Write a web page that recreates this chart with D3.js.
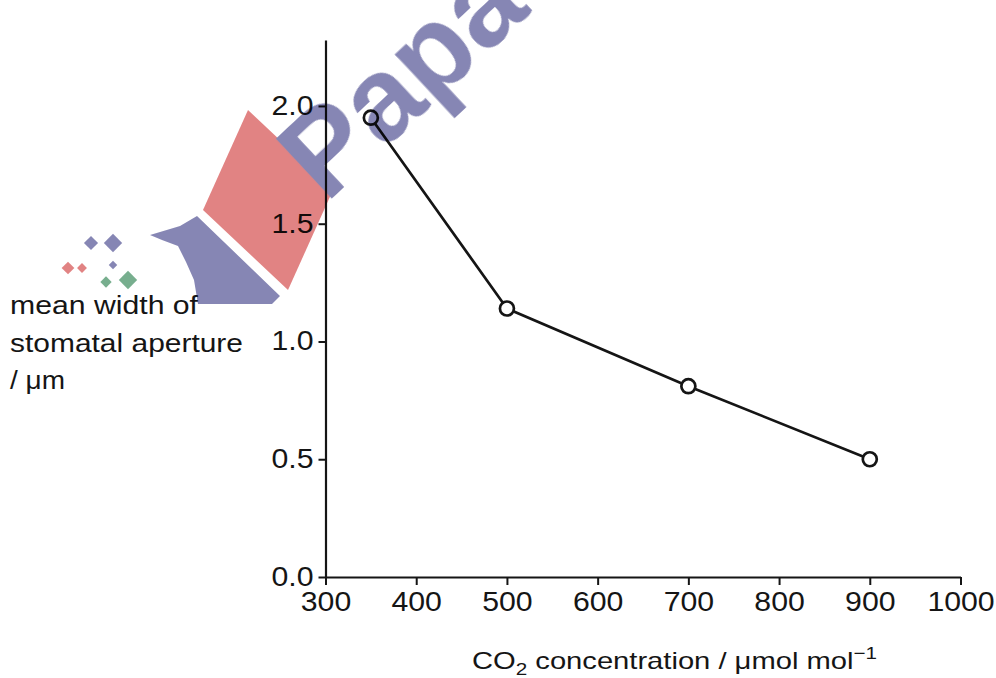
<!DOCTYPE html>
<html><head><meta charset="utf-8">
<script src="https://cdn.jsdelivr.net/npm/d3@7"></script>
<style>body{margin:0;background:#fff}svg{display:block}</style>
</head><body>
<svg id="c" width="996" height="678"></svg>
<script>
// ---- data ----
const co2 = [350, 500, 700, 900];
const aperture = [1.95, 1.14, 0.81, 0.50];
const xTicks = [300, 400, 500, 600, 700, 800, 900, 1000];
const yTicks = [0.0, 0.5, 1.0, 1.5, 2.0];
const yLabelLines = ["mean width of", "stomatal aperture", "/ \u03bcm"];

const svg = d3.select("#c");
const FONT = "'Liberation Sans', Arial, Helvetica, sans-serif";
const INK = "#151515";
const SX = 1.08; // horizontal stretch of the original lettering

const x = d3.scaleLinear().domain([300, 1000]).range([325.5, 960.5]);
const y = d3.scaleLinear().domain([0, 2.28]).range([577, 40]);

// axes
const xAxis = svg.append("g").attr("transform", `translate(0,${y(0)})`)
  .call(d3.axisBottom(x).tickValues(xTicks).tickFormat(d3.format("d")).tickSize(8).tickPadding(5).tickSizeOuter(0));
const yAxis = svg.append("g").attr("transform", `translate(${x(300)},0)`)
  .call(d3.axisLeft(y).tickValues(yTicks).tickFormat(d3.format(".1f")).tickSize(7).tickPadding(6).tickSizeOuter(0));

[xAxis, yAxis].forEach(g => {
  g.attr("font-size", null);
  g.select(".domain").attr("stroke", INK).attr("stroke-width", 2.2);
  g.selectAll(".tick line").attr("stroke", INK).attr("stroke-width", 2);
  g.selectAll(".tick text").attr("fill", INK).attr("font-family", FONT).attr("font-size", 28);
});
xAxis.selectAll(".tick text").attr("transform", `scale(${SX},1)`).attr("x", 0).attr("dy", "0.74em");
yAxis.selectAll(".tick text").attr("transform", `scale(${SX},1)`).attr("x", -12 / SX).attr("dy", "0.30em");

// line + points
const pts = co2.map((c, i) => [c, aperture[i]]);
svg.append("path").datum(pts)
  .attr("d", d3.line().x(d => x(d[0])).y(d => y(d[1])))
  .attr("fill", "none").attr("stroke", INK).attr("stroke-width", 2.7);
svg.selectAll("circle.pt").data(pts).join("circle").attr("class", "pt")
  .attr("cx", d => x(d[0])).attr("cy", d => y(d[1])).attr("r", 7)
  .attr("fill", "#fff").attr("stroke", INK).attr("stroke-width", 2.7);

// x-axis label
const xl = svg.append("text").attr("x", 472).attr("y", 669)
  .attr("fill", INK).style("font-family", FONT).style("font-size", "24px")
  .attr("textLength", 405).attr("lengthAdjust", "spacingAndGlyphs");
xl.append("tspan").text("CO");
xl.append("tspan").attr("dy", 6).style("font-size", "17px").text("2");
xl.append("tspan").attr("dy", -6).text(" concentration / \u03bcmol mol");
xl.append("tspan").attr("dy", -10).style("font-size", "17px").text("\u22121");

// y-axis label
const yLens = [188, 233, 55];
yLabelLines.forEach((t, i) => {
  svg.append("text").attr("x", 10).attr("y", 314 + i * 37.5)
    .attr("fill", INK).style("font-family", FONT).style("font-size", "25px")
    .attr("textLength", yLens[i]).attr("lengthAdjust", "spacingAndGlyphs").text(t);
});

// ---- watermark overlay ----
const wm = svg.append("g").style("mix-blend-mode", "multiply").attr("opacity", 0.95);
const purple = "#8080b0", red = "#e07c7c", green = "#70aa88";
wm.append("polygon").attr("fill", red)
  .attr("points", "248,110 333,190 288,290 203,210");
wm.append("polygon").attr("fill", purple)
  .attr("points", "150,235 160,232 180,226 197,216 280,296 272,304 198,304 194,280 186,262 178,246 162,240");
wm.append("text").attr("transform", "translate(326,204) rotate(-43)")
  .attr("fill", purple).style("font-family", FONT).style("font-weight", "bold")
  .style("font-size", "118px").text("Papa");
const diamonds = [[91, 243, 10, purple], [113, 243, 13, purple], [113, 265, 6, purple],
                  [68, 268, 9, red], [82, 268, 7, red], [106, 282, 8, green], [128, 280, 13, green]];
diamonds.forEach(([cx, cy, s, c]) => {
  wm.append("rect").attr("x", -s / 2).attr("y", -s / 2).attr("width", s).attr("height", s)
    .attr("fill", c).attr("transform", `translate(${cx},${cy}) rotate(45)`);
});
</script>
</body></html>
